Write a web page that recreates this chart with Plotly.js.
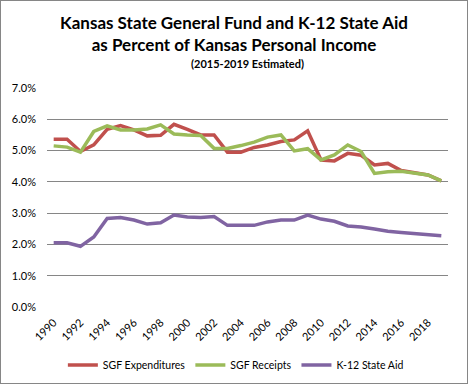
<!DOCTYPE html>
<html>
<head>
<meta charset="utf-8">
<script src="https://cdn.plot.ly/plotly-3.0.1.min.js"></script>
<style>
html,body{margin:0;padding:0;background:#fff;}
#chart{width:466px;height:382px;border:1px solid #868686;}
</style>
</head>
<body>
<div id="chart"></div>
<script>
const years = [1990,1991,1992,1993,1994,1995,1996,1997,1998,1999,2000,2001,2002,2003,2004,2005,2006,2007,2008,2009,2010,2011,2012,2013,2014,2015,2016,2017,2018,2019];
const sgfExpenditures = [5.36,5.36,4.97,5.18,5.68,5.80,5.66,5.47,5.49,5.84,5.68,5.50,5.50,4.95,4.95,5.10,5.18,5.29,5.34,5.63,4.70,4.67,4.91,4.85,4.54,4.59,4.36,4.29,4.22,4.03];
const sgfReceipts = [5.15,5.11,4.95,5.61,5.79,5.66,5.66,5.69,5.82,5.53,5.50,5.48,5.07,5.07,5.16,5.27,5.43,5.50,4.99,5.06,4.70,4.86,5.18,4.97,4.27,4.32,4.34,4.29,4.22,4.03];
const k12StateAid = [2.05,2.05,1.94,2.24,2.83,2.86,2.78,2.65,2.69,2.94,2.88,2.86,2.89,2.61,2.61,2.61,2.72,2.78,2.78,2.94,2.81,2.74,2.59,2.56,2.49,2.42,2.38,2.35,2.33,2.28];
const seriesNames = ["SGF Expenditures","SGF Receipts","K-12 State Aid"];
const seriesColors = ["#C0504D","#9BBB59","#8064A2"];
const titleText = "Kansas State General Fund and K-12 State Aid<br>as Percent of Kansas Personal Income";
const subtitleText = "(2015-2019 Estimated)";

const FONT = "Lato, 'Open Sans', sans-serif";
const series = [sgfExpenditures, sgfReceipts, k12StateAid];
const traces = series.map((ys, i) => ({
  x: years, y: ys, type: "scatter", mode: "lines", name: seriesNames[i],
  line: {color: seriesColors[i], width: 3.5}
}));

const layout = {
  width: 466, height: 382,
  margin: {l: 46, r: 19, t: 87, b: 76, pad: 0, autoexpand: false},
  paper_bgcolor: "#fff", plot_bgcolor: "#fff",
  font: {family: FONT, color: "#000", size: 11},
  title: {text: titleText, font: {family: FONT, size: 17, color: "#000", weight: "bold"},
          x: 0.5, xanchor: "center", xref: "container", y: 0.928, yanchor: "top", yref: "container"},
  annotations: [{text: subtitleText, xref: "paper", yref: "paper", x: 0.5, y: 1.111, xanchor: "center", yanchor: "middle",
    showarrow: false, font: {family: FONT, size: 11, color: "#000", weight: "bold"}}],
  xaxis: {range: [1989.5, 2019.5], tickmode: "linear", tick0: 1990, dtick: 2, tickangle: -45, automargin: false,
          showgrid: false, zeroline: false, showline: false, ticks: "", ticklabelstandoff: 6,
          tickfont: {family: FONT, size: 11, color: "#000"}, fixedrange: true},
  yaxis: {range: [0, 7], tickmode: "linear", tick0: 0, dtick: 1, tickformat: ".1f", ticksuffix: "%", automargin: false,
          showgrid: true, gridcolor: "#868686", gridwidth: 1, zeroline: false, showline: false,
          ticks: "", ticklabelstandoff: 10, tickfont: {family: FONT, size: 11, color: "#000"}, fixedrange: true},
  showlegend: true,
  legend: {orientation: "h", xref: "container", x: 0.504, xanchor: "center", yref: "container", y: 0.047, yanchor: "middle",
           font: {family: FONT, size: 10.5, color: "#000"}, itemwidth: 30, tracegroupgap: 0,
           bgcolor: "rgba(0,0,0,0)"}
};

Plotly.newPlot("chart", traces, layout, {staticPlot: true, displayModeBar: false});
</script>
</body>
</html>
